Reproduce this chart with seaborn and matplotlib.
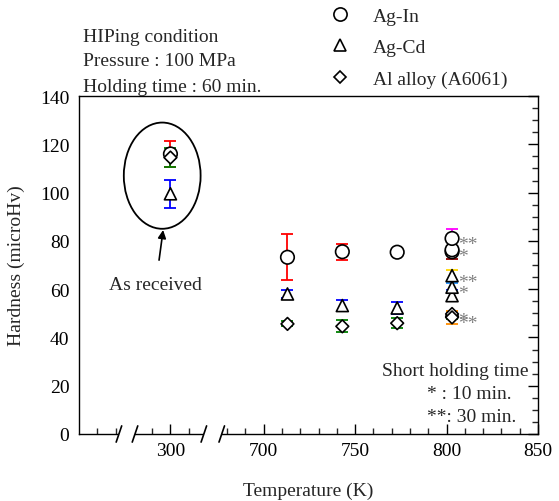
import numpy as np
import pandas as pd
import matplotlib
matplotlib.use("Agg")
import matplotlib.pyplot as plt
import seaborn as sns
from matplotlib.patches import Ellipse, Rectangle
from matplotlib.lines import Line2D
from matplotlib.ticker import FixedLocator, NullFormatter

# ---- data -------------------------------------------------------------
materials = ["Ag-In", "Ag-Cd", "Al alloy (A6061)"]
markers = ["o", "^", "D"]

# standard HIPing (60 min holding) and as-received (300 K)
temps = [300, 713, 743, 773, 803]
agin_hv = [116.0, 73.2, 75.5, 75.3, 75.5]
agin_err = [5.5, 9.6, 3.3, 0.5, 0.6]
agcd_hv = [99.5, 58.0, 53.2, 52.2, 57.3]
agcd_err = [5.7, 1.8, 2.3, 2.6, 2.2]
al_hv = [114.5, 45.6, 44.6, 45.9, 48.8]
al_err = [4.0, 1.0, 2.5, 2.0, 1.0]

# short holding time at 803 K: 10 min (*) and 30 min (**)
short_temp = 803
short_marks = ["*", "**"]
agin_short = [76.3, 81.0]
agin_short_err = [4.0, 4.0]
agcd_short = [60.8, 65.6]
agcd_short_err = [1.7, 2.4]
al_short = [49.7, 48.3]
al_short_err = [1.0, 2.7]

err_colors = {"Ag-In": ["red", "#8b0000", "magenta"],
              "Ag-Cd": ["blue", "dodgerblue", "gold"],
              "Al alloy (A6061)": ["green", "#404040", "darkorange"]}

# ---- tidy table -------------------------------------------------------
rows = []
for mat, hv, er, shv, ser in zip(materials,
                                 [agin_hv, agcd_hv, al_hv],
                                 [agin_err, agcd_err, al_err],
                                 [agin_short, agcd_short, al_short],
                                 [agin_short_err, agcd_short_err, al_short_err]):
    for t, h, e in zip(temps, hv, er):
        rows.append(dict(material=mat, T=t, H=h, err=e, group=0, mark=""))
    for k, (h, e) in enumerate(zip(shv, ser)):
        rows.append(dict(material=mat, T=short_temp, H=h, err=e, group=k + 1,
                         mark=short_marks[k]))
df = pd.DataFrame(rows)

# ---- broken temperature axis -----------------------------------------
def fwd(t):
    t = np.asarray(t, dtype=float)
    return np.where(t <= 320, t,
                    np.where(t >= 680, t - 349, 320 + (t - 320) * 11.0 / 360.0))


def inv(p):
    p = np.asarray(p, dtype=float)
    return np.where(p <= 320, p,
                    np.where(p >= 331, p + 349, 320 + (p - 320) * 360.0 / 11.0))


sns.set_style("white")
plt.rcParams["font.family"] = ["Liberation Serif", "DejaVu Serif"]

fig = plt.figure(figsize=(5.59, 5.02), dpi=100)
ax = fig.add_axes([79 / 559, 1 - 435 / 502, (538 - 79) / 559, (435 - 97) / 502])

# error bars, coloured per series
for _, r in df.iterrows():
    ax.errorbar(r["T"], r["H"], yerr=r["err"], fmt="none",
                ecolor=err_colors[r["material"]][int(r["group"])],
                elinewidth=1.3, capsize=4, capthick=1.3, zorder=2)

# markers
sizes = {"Ag-In": 95, "Ag-Cd": 75, "Al alloy (A6061)": 42}
sns.scatterplot(data=df, x="T", y="H", style="material", size="material",
                markers=dict(zip(materials, markers)), sizes=sizes,
                style_order=materials, color="white", edgecolor="black",
                linewidth=1.2, legend=False, ax=ax, zorder=3)

# asterisks for short holding time
for _, r in df[df["group"] > 0].iterrows():
    ax.annotate(r["mark"], (r["T"], r["H"]), xytext=(6, -11),
                textcoords="offset pixels", ha="left", va="baseline",
                fontsize=14, color="#808080", zorder=4)

ax.set_xscale("function", functions=(fwd, inv))
ax.set_xlim(250, 850)
ax.set_ylim(0, 140)

ax.xaxis.set_major_locator(FixedLocator([300, 700, 750, 800, 850]))
minor_x = [260, 270, 290, 310] + [t for t in range(680, 850, 10) if t % 50]
ax.xaxis.set_minor_locator(FixedLocator(minor_x))
ax.xaxis.set_minor_formatter(NullFormatter())
ax.yaxis.set_major_locator(FixedLocator(list(range(0, 141, 20))))
ax.yaxis.set_minor_locator(FixedLocator([v for v in range(0, 141, 5) if v % 20]))

ax.tick_params(axis="both", which="major", direction="in", length=7, width=1,
               labelsize=14, colors="black")
ax.tick_params(axis="both", which="minor", direction="in", length=4, width=1)
ax.tick_params(axis="y", which="both", right=True, pad=7)
ax.tick_params(axis="x", which="both", bottom=True, top=False, pad=6)
for s in ax.spines.values():
    s.set_color("black")
    s.set_linewidth(1)

ax.set_xlabel("Temperature (K)", fontsize=14)
ax.set_ylabel("Hardness (microHv)", fontsize=14)
ax.xaxis.set_label_coords(0.5, -0.14)
ax.yaxis.set_label_coords(-0.118, 0.5)

# axis break marks
for x1, x2 in [(0.087, 0.122), (0.272, 0.311)]:
    ax.add_patch(Rectangle((x1, -0.006), x2 - x1, 0.012, transform=ax.transAxes,
                           facecolor="white", edgecolor="none", clip_on=False,
                           zorder=5))
    for x in (x1, x2):
        ax.add_line(Line2D([x - 0.006, x + 0.006], [-0.024, 0.024],
                           transform=ax.transAxes, color="black", lw=1.2,
                           clip_on=False, zorder=6))

# as-received group
ax.add_patch(Ellipse((295.5, 107), 42, 44, facecolor="none",
                     edgecolor="black", lw=1.3, zorder=1))
ax.annotate("As received", xy=(296, 84.5), xytext=(292, 62),
            ha="center", va="center", fontsize=14,
            arrowprops=dict(arrowstyle="-|>", color="black", lw=1.2,
                            mutation_scale=12, shrinkA=9, shrinkB=0))

# HIPing conditions
for y, txt in zip([37, 62, 87], ["HIPing condition", "Pressure : 100 MPa",
                                  "Holding time : 60 min."]):
    fig.text(83 / 559, 1 - y / 502, txt, ha="left", va="center", fontsize=14)

# short holding time notes
fig.text(528 / 559, 1 - 372 / 502, "Short holding time", ha="right",
         va="center", fontsize=14)
fig.text(427 / 559, 1 - 395 / 502, "* : 10 min.", ha="left", va="center",
         fontsize=14)
fig.text(427 / 559, 1 - 418 / 502, "**: 30 min.", ha="left", va="center",
         fontsize=14)

# legend
handles = [Line2D([], [], ls="none", marker=m, mfc="white", mec="black",
                  mew=1.2, ms=ms) for m, ms in zip(markers, [9.5, 8.6, 6.3])]
fig.legend(handles, materials, loc="upper left",
           bbox_to_anchor=(330 / 559, 1 - 8 / 502), frameon=False,
           fontsize=14, handlelength=1.0, handletextpad=1.2,
           labelspacing=0.72, borderpad=0, borderaxespad=0)

fig.savefig("out.png", dpi=100)
